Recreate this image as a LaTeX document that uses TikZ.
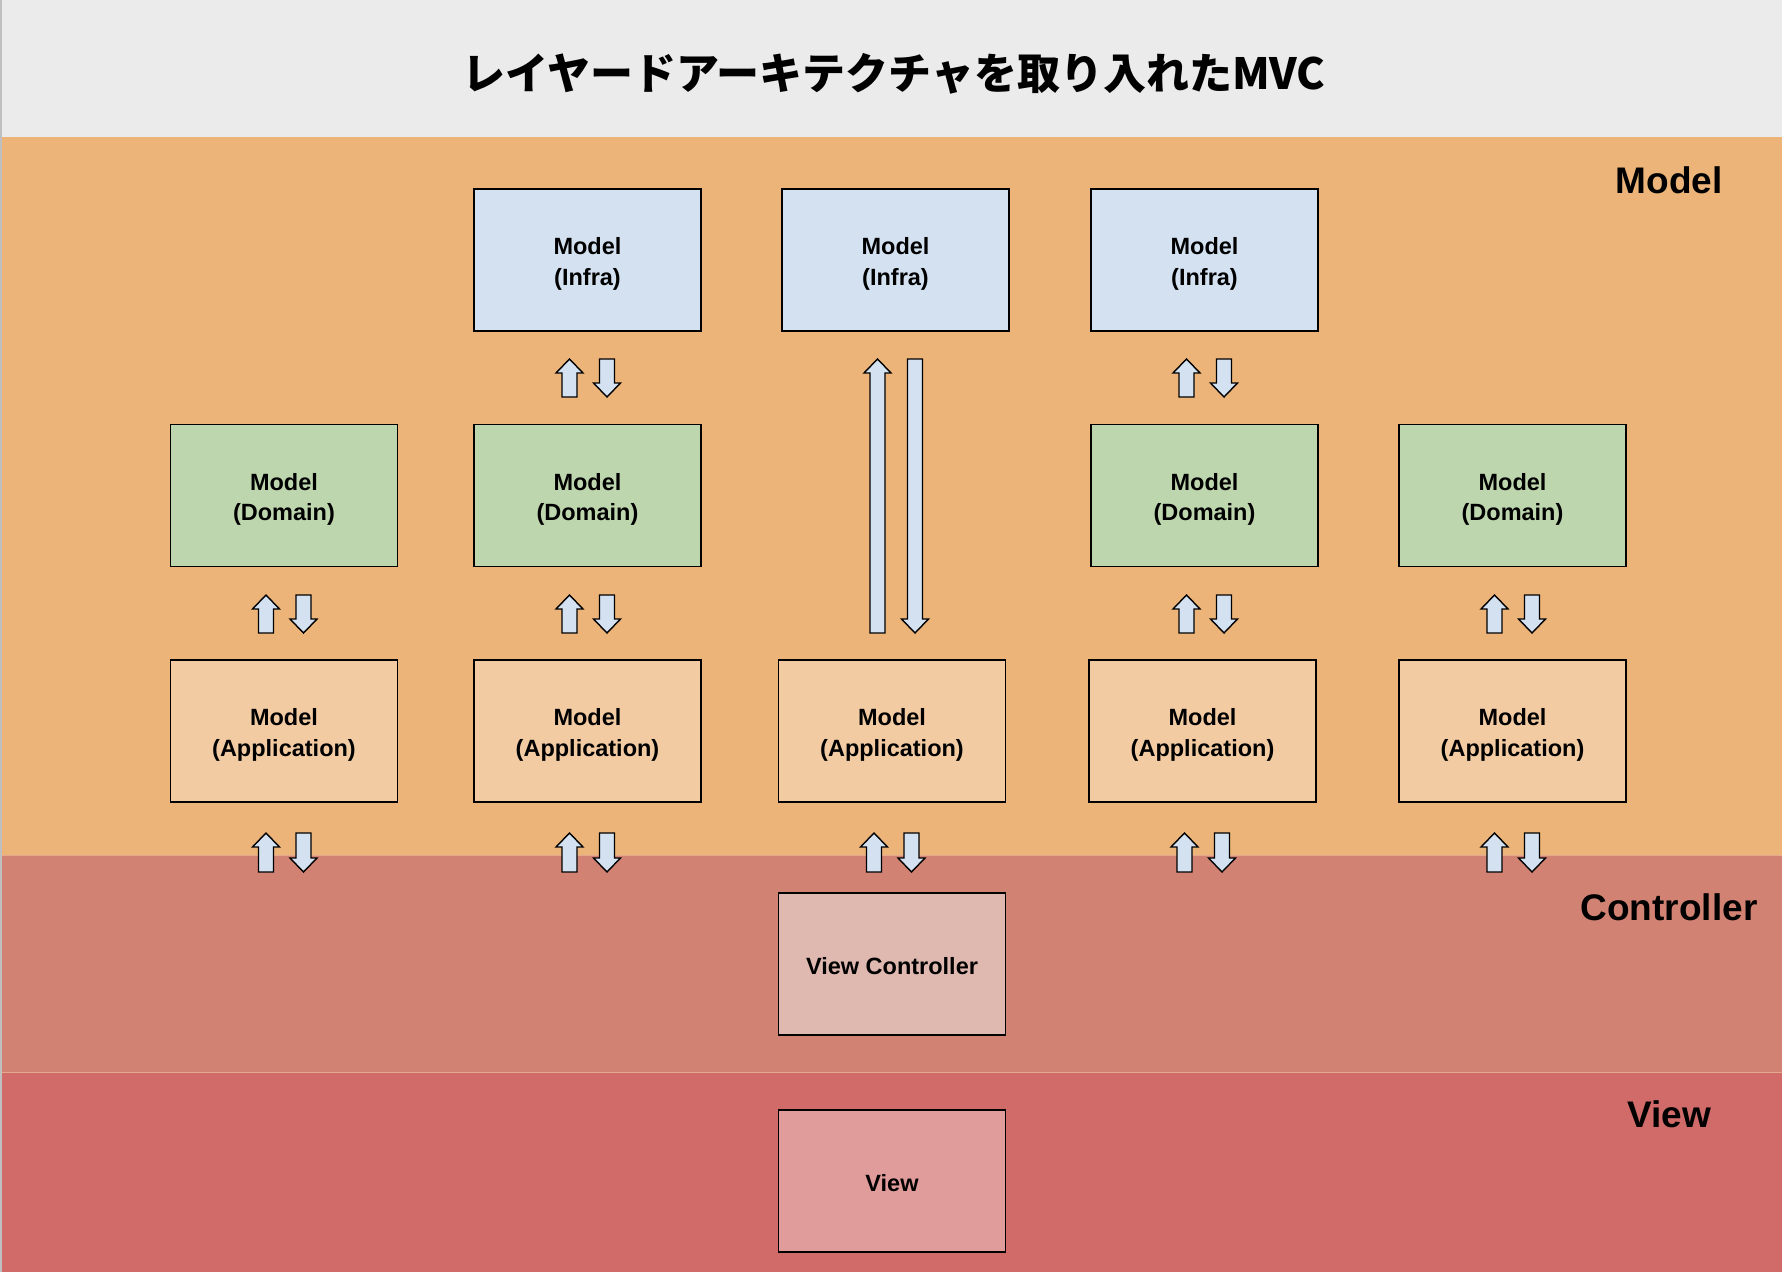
\documentclass[tikz,border=0pt]{standalone}
\usepackage{fontspec}
\setmainfont{Liberation Sans}
\newfontfamily\cjk{Noto Sans CJK JP}
\definecolor{titlebg}{HTML}{EBEBEB}
\definecolor{modelbg}{HTML}{ECB478}
\definecolor{ctrlbg}{HTML}{D18272}
\definecolor{viewbg}{HTML}{D06B6A}
\definecolor{infrafill}{HTML}{D3E1F1}
\definecolor{domfill}{HTML}{BDD6AE}
\definecolor{appfill}{HTML}{F3CBA2}
\definecolor{vcfill}{HTML}{DFB8B0}
\definecolor{vfill}{HTML}{E09C9B}
\definecolor{arrfill}{HTML}{D3E1F1}
\definecolor{sepline}{HTML}{E3A88E}
\tikzset{
  box/.style={draw=black, line width=1.4pt, minimum width=227pt, minimum height=142pt,
    inner sep=0pt},
  boxtext/.style={align=center, inner sep=0pt, font=\fontsize{23.5}{30.5}\selectfont\bfseries},
  infra/.style={box, fill=infrafill},
  dom/.style={box, fill=domfill},
  app/.style={box, fill=appfill},
  vc/.style={box, fill=vcfill},
  vw/.style={box, fill=vfill},
  lane/.style={font=\fontsize{37}{44}\selectfont\bfseries, anchor=center},
  arr/.style={draw=black, line width=1.4pt, fill=arrfill, line join=miter}
}
% up arrow: centre x, top y, bottom y (y grows downward)
\newcommand\UpArr[3]{%
  \draw[arr] (#1,#2) -- (#1+13.5,#2+14) -- (#1+7.5,#2+14) -- (#1+7.5,#3)
    -- (#1-7.5,#3) -- (#1-7.5,#2+14) -- (#1-13.5,#2+14) -- cycle;}
\newcommand\DnArr[3]{%
  \draw[arr] (#1,#3) -- (#1+13.5,#3-14) -- (#1+7.5,#3-14) -- (#1+7.5,#2)
    -- (#1-7.5,#2) -- (#1-7.5,#3-14) -- (#1-13.5,#3-14) -- cycle;}
\newcommand\ArrPair[3]{\UpArr{#1-18}{#2}{#3}\DnArr{#1+19.5}{#2}{#3}}
% box with text: style, name, position, text
\newcommand\LayerBox[4]{%
  \node[#1] (#2) at (#3) {};
  \node[boxtext] (#2t) at ([yshift=-4pt]#2.center) {#4};}
\begin{document}
\begin{tikzpicture}[x=1pt, y=-1pt]
\useasboundingbox (0,0) rectangle (1782,1276);
\fill[white] (0,0) rectangle (1782,1276);
% bands
\fill[titlebg] (0,0) rectangle (1782,137);
\fill[modelbg] (2,137) rectangle (1782,855);
\fill[ctrlbg] (2,855) rectangle (1782,1072);
\fill[viewbg] (2,1072) rectangle (1782,1272);
\draw[sepline, line width=0.8pt] (2,855) -- (1782,855);
\draw[sepline, line width=0.8pt] (2,1072) -- (1782,1072);
\fill[black!25] (0,0) rectangle (2,1272);
% title
\node (title) at (894,74) {\cjk\bfseries\fontsize{43}{50}\selectfont レイヤードアーキテクチャを取り入れたMVC};
% lane labels
\node[lane] (lmodel) at (1669,180) {Model};
\node[lane] (lctrl) at (1669,907) {Controller};
\node[lane] (lview) at (1669,1114) {View};
% infra
\LayerBox{infra}{i2}{587.5,260}{Model\\(Infra)}
\LayerBox{infra}{i3}{895.5,260}{Model\\(Infra)}
\LayerBox{infra}{i4}{1204.5,260}{Model\\(Infra)}
% domain
\LayerBox{dom}{d1}{284,495.5}{Model\\(Domain)}
\LayerBox{dom}{d2}{587.5,495.5}{Model\\(Domain)}
\LayerBox{dom}{d4}{1204.5,495.5}{Model\\(Domain)}
\LayerBox{dom}{d5}{1512.5,495.5}{Model\\(Domain)}
% application
\LayerBox{app}{a1}{284,731}{Model\\(Application)}
\LayerBox{app}{a2}{587.5,731}{Model\\(Application)}
\LayerBox{app}{a3}{892,731}{Model\\(Application)}
\LayerBox{app}{a4}{1202.5,731}{Model\\(Application)}
\LayerBox{app}{a5}{1512.5,731}{Model\\(Application)}
% controller / view
\node[vc] (vc) at (892,964) {};
\node[boxtext] (vct) at ([yshift=-2.5pt]vc.center) {View Controller};
\node[vw] (v) at (892,1181) {};
\node[boxtext] (vt) at ([yshift=-2.5pt]v.center) {View};
% arrows infra <-> domain
\ArrPair{587.5}{359}{397}
\ArrPair{1204.5}{359}{397}
% long arrows infra <-> application
\ArrPair{895.5}{359}{633}
% domain <-> application
\ArrPair{284}{595}{633}
\ArrPair{587.5}{595}{633}
\ArrPair{1204.5}{595}{633}
\ArrPair{1512.5}{595}{633}
% application <-> controller
\ArrPair{284}{833}{872}
\ArrPair{587.5}{833}{872}
\ArrPair{892}{833}{872}
\ArrPair{1202.5}{833}{872}
\ArrPair{1512.5}{833}{872}
\end{tikzpicture}
\end{document}
